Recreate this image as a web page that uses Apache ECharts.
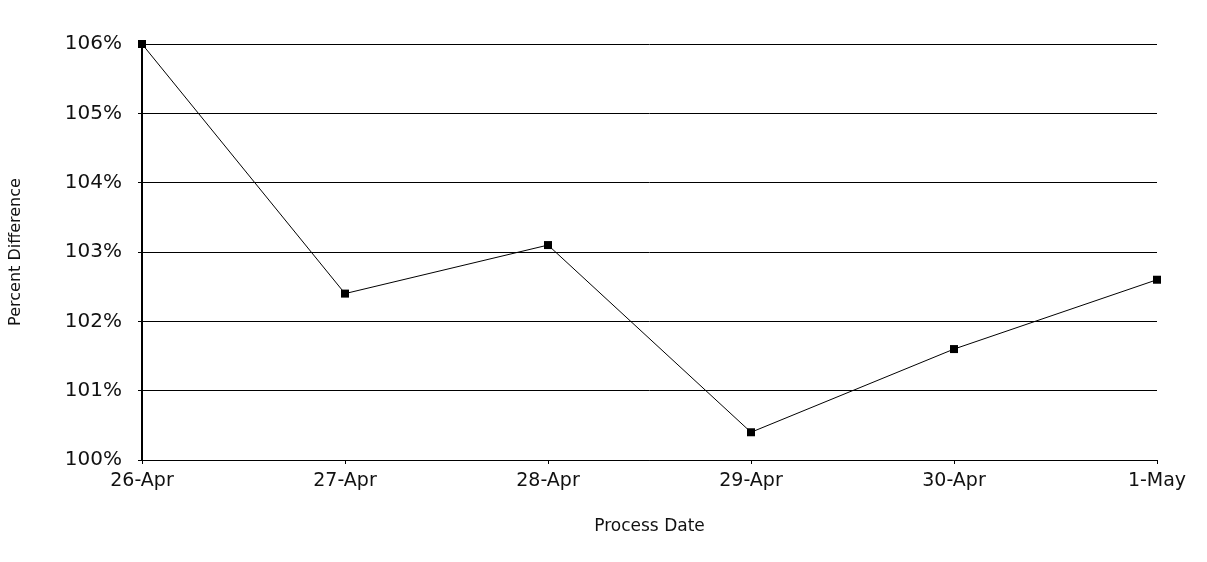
<!DOCTYPE html>
<html>
<head>
<meta charset="utf-8">
<script src="https://cdn.jsdelivr.net/npm/echarts@6/dist/echarts.min.js"></script>
<style>
html, body { margin: 0; padding: 0; background: #fff; }
#chart { width: 1207px; height: 562px; }
</style>
</head>
<body>
<div id="chart"></div>
<script>
// process dates and percent difference (read against the gridlines)
var dates = ['26-Apr', '27-Apr', '28-Apr', '29-Apr', '30-Apr', '1-May'];
var pctDiff = [106.0, 102.4, 103.1, 100.4, 101.6, 102.6];
var yMin = 100, yMax = 106, yStep = 1;

var chart = echarts.init(document.getElementById('chart'));
var option = {
  animation: false,
  backgroundColor: '#fff',
  grid: { left: 137, right: 50, top: 44, bottom: 102 },
  xAxis: {
    type: 'category',
    data: dates,
    boundaryGap: false,
    name: 'Process Date',
    nameLocation: 'middle',
    nameGap: 58,
    nameTextStyle: { fontFamily: 'DejaVu Sans', fontSize: 17, color: '#111' },
    axisLine: { lineStyle: { color: '#000', width: 1 } },
    axisTick: { show: true, length: 4, lineStyle: { color: '#000' } },
    axisLabel: { fontFamily: 'DejaVu Sans', fontSize: 19, color: '#111', margin: 12 },
    splitLine: { show: false }
  },
  yAxis: {
    type: 'value',
    min: yMin,
    max: yMax,
    interval: yStep,
    name: 'Percent Difference',
    nameLocation: 'middle',
    nameGap: 118,
    nameTextStyle: { fontFamily: 'DejaVu Sans', fontSize: 16, color: '#111' },
    axisLine: { show: true, lineStyle: { color: '#000', width: 2 } },
    axisTick: { show: true, length: 4, lineStyle: { color: '#000' } },
    axisLabel: {
      fontFamily: 'DejaVu Sans', fontSize: 20, color: '#111', margin: 20,
      formatter: function (v) { return v + '%'; }
    },
    splitLine: { show: true, lineStyle: { color: '#000', width: 1 } }
  },
  series: [{
    type: 'line',
    data: pctDiff,
    symbol: 'rect',
    symbolSize: 8,
    lineStyle: { color: '#000', width: 1 },
    itemStyle: { color: '#000' }
  }]
};
chart.setOption(option);
</script>
</body>
</html>
